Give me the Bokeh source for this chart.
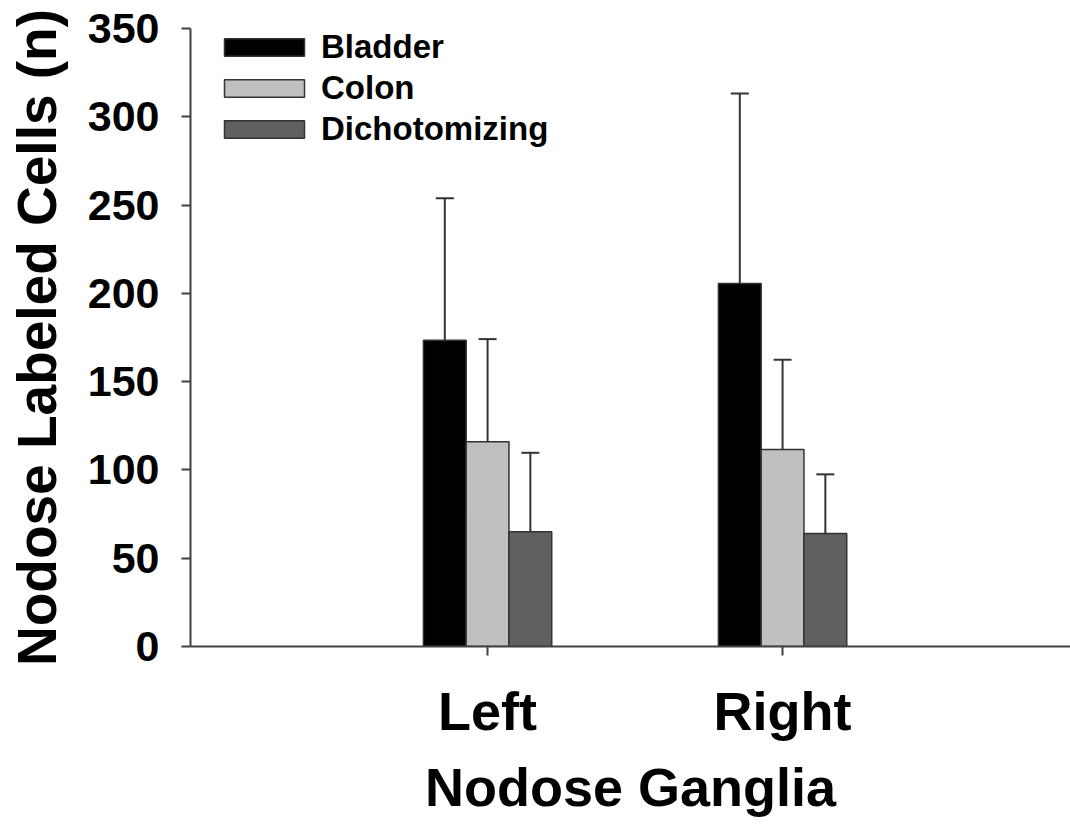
from bokeh.plotting import figure
from bokeh.models import ColumnDataSource, FixedTicker, Whisker, TeeHead, Legend, LegendItem, Range1d
from bokeh.embed import file_html
from bokeh.resources import INLINE

groups = ["Left", "Right"]
group_pos = [1, 2]
series = ["Bladder", "Colon", "Dichotomizing"]
colors = ["#000000", "#c0c0c0", "#606060"]
bladder = [173.5, 205.6]
colon = [116.0, 111.6]
dichot = [65.0, 64.0]
bladder_err = [80.4, 107.6]
colon_err = [58.1, 50.8]
dichot_err = [44.7, 33.5]
y_ticks = [0, 50, 100, 150, 200, 250, 300, 350]

values = [bladder, colon, dichot]
errors = [bladder_err, colon_err, dichot_err]
bar_w = 0.145
offsets = [-bar_w, 0.0, bar_w]

FONT = "Liberation Sans"

p = figure(width=1070, height=827, output_backend="svg", toolbar_location=None,
           x_range=Range1d(-0.007, 2.976), y_range=Range1d(0, 350),
           min_border_left=190, min_border_right=0, min_border_top=28, min_border_bottom=181)
p.outline_line_color = None
p.grid.visible = False

items = []
for s, c, vals, errs, off in zip(series, colors, values, errors, offsets):
    xs = [g + off for g in group_pos]
    src = ColumnDataSource(dict(x=xs, top=vals, upper=[v + e for v, e in zip(vals, errs)]))
    r = p.vbar(x="x", top="top", bottom=0, width=bar_w, source=src,
               fill_color=c, line_color="#333333", line_width=1.5)
    w = Whisker(base="x", lower="top", upper="upper", source=src,
                line_color="#333333", line_width=2,
                upper_head=TeeHead(size=18, line_color="#333333", line_width=2),
                lower_head=None)
    p.add_layout(w)
    items.append(LegendItem(label=s, renderers=[r]))

legend = Legend(items=items, location=(24, 497), padding=0, margin=0, spacing=0,
                glyph_width=100, glyph_height=22, label_height=41, label_standoff=7,
                label_text_font=FONT, label_text_font_style="bold", label_text_font_size="33px",
                label_text_color="#000000",
                background_fill_alpha=0, border_line_color=None)
p.add_layout(legend)

# y axis
p.yaxis.ticker = FixedTicker(ticks=y_ticks)
p.yaxis.minor_tick_line_color = None
p.yaxis.major_tick_in = 0
p.yaxis.major_tick_out = 9
p.yaxis.major_label_standoff = 22
p.yaxis.major_label_text_font = FONT
p.yaxis.major_label_text_font_style = "bold"
p.yaxis.major_label_text_font_size = "43px"
p.yaxis.axis_label = "Nodose Labeled Cells (n)"
p.yaxis.axis_label_text_font = FONT
p.yaxis.axis_label_text_font_style = "bold"
p.yaxis.axis_label_text_font_size = "55px"
p.yaxis.axis_label_standoff = 17

# x axis
p.xaxis.ticker = FixedTicker(ticks=group_pos)
p.xaxis.major_label_overrides = {g: lab for g, lab in zip(group_pos, groups)}
p.xaxis.minor_tick_line_color = None
p.xaxis.major_tick_in = 0
p.xaxis.major_tick_out = 9
p.xaxis.major_label_standoff = 25
p.xaxis.major_label_text_font = FONT
p.xaxis.major_label_text_font_style = "bold"
p.xaxis.major_label_text_font_size = "54px"
p.xaxis.axis_label = "Nodose Ganglia"
p.xaxis.axis_label_text_font = FONT
p.xaxis.axis_label_text_font_style = "bold"
p.xaxis.axis_label_text_font_size = "54px"
p.xaxis.axis_label_standoff = 13

for ax in (p.xaxis, p.yaxis):
    ax.axis_line_color = "#404040"
    ax.axis_line_width = 2
    ax.major_tick_line_color = "#404040"
    ax.major_tick_line_width = 2
    ax.major_label_text_color = "#000000"
    ax.axis_label_text_color = "#000000"

open("out.html", "w").write(file_html(p, INLINE))
